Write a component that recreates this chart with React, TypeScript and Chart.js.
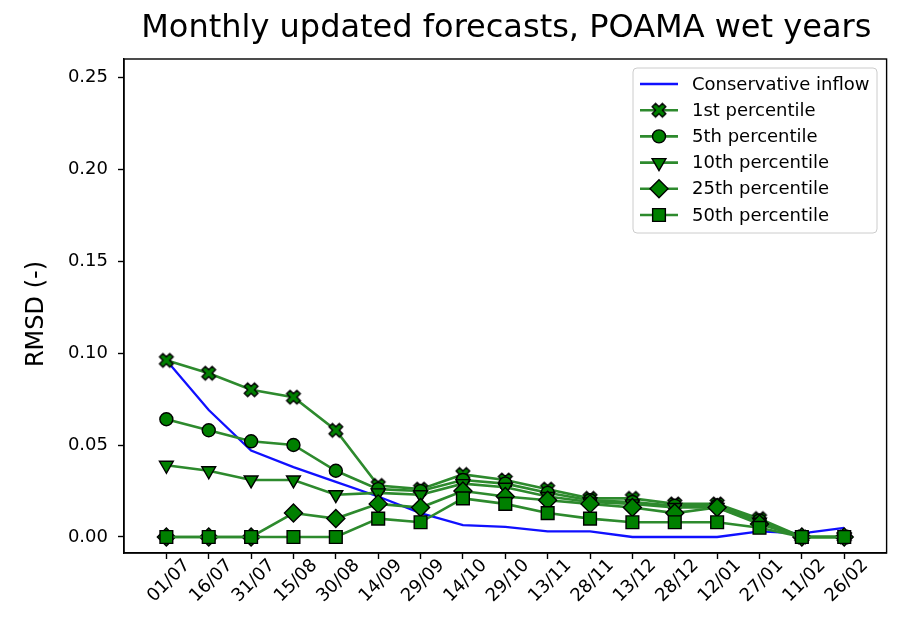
import React, { useEffect, useRef } from 'react';
import { Chart, registerables } from 'chart.js';
import { drawPoint } from 'chart.js/helpers';

Chart.register(...registerables);

const labels = ['01/07', '16/07', '31/07', '15/08', '30/08', '14/09', '29/09', '14/10', '29/10', '13/11', '28/11', '13/12', '28/12', '12/01', '27/01', '11/02', '26/02'];
const conservative = [0.096, 0.069, 0.047, 0.038, 0.030, 0.022, 0.013, 0.0065, 0.0055, 0.003, 0.003, 0.0, 0.0, 0.0, 0.003, 0.002, 0.005];
const p1 = [0.096, 0.089, 0.080, 0.076, 0.058, 0.028, 0.026, 0.034, 0.031, 0.026, 0.021, 0.021, 0.018, 0.018, 0.010, 0, 0];
const p5 = [0.064, 0.058, 0.052, 0.050, 0.036, 0.026, 0.025, 0.031, 0.029, 0.024, 0.020, 0.019, 0.017, 0.017, 0.009, 0, 0];
const p10 = [0.039, 0.036, 0.031, 0.031, 0.023, 0.024, 0.023, 0.029, 0.027, 0.022, 0.019, 0.018, 0.016, 0.016, 0.008, 0, 0];
const p25 = [0, 0, 0, 0.013, 0.010, 0.018, 0.016, 0.025, 0.022, 0.020, 0.018, 0.016, 0.013, 0.016, 0.007, 0, 0];
const p50 = [0, 0, 0, 0, 0, 0.010, 0.008, 0.021, 0.018, 0.013, 0.010, 0.008, 0.008, 0.008, 0.005, 0, 0];
const yTicks = [0, 0.05, 0.1, 0.15, 0.2, 0.25];
const seriesNames = ['Conservative inflow', '1st percentile', '5th percentile', '10th percentile', '25th percentile', '50th percentile'];

const FONT = "'DejaVu Sans', sans-serif";
const GREEN_LINE = 'rgb(45,138,45)';
const GREEN_FILL = '#008000';

function makeXMarker(size: number) {
  const S = Math.ceil(size * 1.1) + 4;
  const c = document.createElement('canvas');
  c.width = S;
  c.height = S;
  const ctx = c.getContext('2d')!;
  const pts = [[-1, -3], [1, -3], [1, -1], [3, -1], [3, 1], [1, 1], [1, 3], [-1, 3], [-1, 1], [-3, 1], [-3, -1], [-1, -1]];
  ctx.translate(S / 2, S / 2);
  ctx.rotate(Math.PI / 4);
  ctx.beginPath();
  pts.forEach(([x, y], i) => {
    const px = (x / 6) * size;
    const py = (y / 6) * size;
    if (i) ctx.lineTo(px, py);
    else ctx.moveTo(px, py);
  });
  ctx.closePath();
  ctx.fillStyle = GREEN_FILL;
  ctx.fill();
  ctx.lineWidth = 1.4;
  ctx.strokeStyle = '#000';
  ctx.stroke();
  return c;
}

export default function App() {
  const ref = useRef<HTMLCanvasElement | null>(null);
  useEffect(() => {
    document.body.style.margin = '0';
    const xMarker = makeXMarker(14.5);
    const values = [conservative, p1, p5, p10, p25, p50];
    const styles: any[] = [
      { pointStyle: false, radius: 0, rotation: 0 },
      { pointStyle: xMarker, radius: 7, rotation: 0 },
      { pointStyle: 'circle', radius: 6.5, rotation: 0 },
      { pointStyle: 'triangle', radius: 8, rotation: 180 },
      { pointStyle: 'rectRot', radius: 9, rotation: 0 },
      { pointStyle: 'rect', radius: 9, rotation: 0 },
    ];
    const datasets = values.map((vals, i) => ({
      label: seriesNames[i],
      data: vals.map((v, j) => ({ x: j, y: v })),
      borderColor: i === 0 ? '#1010ff' : GREEN_LINE,
      borderWidth: i === 0 ? 2.3 : 2.6,
      backgroundColor: GREEN_FILL,
      pointBackgroundColor: GREEN_FILL,
      pointBorderColor: '#000',
      pointBorderWidth: 1.4,
      pointStyle: styles[i].pointStyle,
      pointRadius: styles[i].radius,
      pointRotation: styles[i].rotation,
      pointHoverRadius: styles[i].radius,
      tension: 0,
      fill: false,
      clip: false as any,
      order: 5 - i,
    }));

    const decor = {
      id: 'decor',
      afterDraw(chart: any) {
        const ctx = chart.ctx as CanvasRenderingContext2D;
        const a = chart.chartArea;
        ctx.save();
        // frame
        ctx.strokeStyle = '#000';
        ctx.lineWidth = 1.4;
        ctx.strokeRect(a.left, a.top, a.right - a.left, a.bottom - a.top);
        // title
        ctx.fillStyle = '#000';
        ctx.font = `32px ${FONT}`;
        ctx.textAlign = 'center';
        ctx.textBaseline = 'alphabetic';
        ctx.fillText('Monthly updated forecasts, POAMA wet years', (a.left + a.right) / 2 + 1, 37);
        // y label
        ctx.save();
        ctx.translate(37, 314);
        ctx.rotate(-Math.PI / 2);
        ctx.font = `24px ${FONT}`;
        ctx.textBaseline = 'middle';
        ctx.fillText('RMSD (-)', 0, 0);
        ctx.restore();
        // legend
        const lx = 633, ly = 68, lw = 244, lh = 165, r = 4;
        ctx.beginPath();
        ctx.moveTo(lx + r, ly);
        ctx.arcTo(lx + lw, ly, lx + lw, ly + lh, r);
        ctx.arcTo(lx + lw, ly + lh, lx, ly + lh, r);
        ctx.arcTo(lx, ly + lh, lx, ly, r);
        ctx.arcTo(lx, ly, lx + lw, ly, r);
        ctx.closePath();
        ctx.fillStyle = 'rgba(255,255,255,0.8)';
        ctx.fill();
        ctx.strokeStyle = '#cccccc';
        ctx.lineWidth = 1;
        ctx.stroke();
        chart.data.datasets.forEach((ds: any, i: number) => {
          const y = 84 + i * 26.2;
          ctx.beginPath();
          ctx.moveTo(640, y);
          ctx.lineTo(678, y);
          ctx.strokeStyle = ds.borderColor;
          ctx.lineWidth = ds.borderWidth;
          ctx.stroke();
          if (ds.pointStyle) {
            ctx.fillStyle = ds.pointBackgroundColor;
            ctx.strokeStyle = ds.pointBorderColor;
            ctx.lineWidth = ds.pointBorderWidth;
            drawPoint(ctx, { pointStyle: ds.pointStyle, rotation: ds.pointRotation, radius: ds.pointRadius, borderWidth: ds.pointBorderWidth } as any, 659, y);
          }
          ctx.fillStyle = '#000';
          ctx.font = `18px ${FONT}`;
          ctx.textAlign = 'left';
          ctx.textBaseline = 'middle';
          ctx.fillText(ds.label, 692, y + 1);
        });
        ctx.restore();
      },
    };

    const chart = new Chart(ref.current!, {
      type: 'line',
      data: { datasets: datasets as any },
      options: {
        responsive: false,
        animation: false,
        events: [],
        layout: { padding: { top: 59, right: 10, left: 0, bottom: 0 } },
        plugins: { legend: { display: false }, title: { display: false }, tooltip: { enabled: false } },
        scales: {
          x: {
            type: 'linear',
            min: -1,
            max: 17,
            afterBuildTicks: (s: any) => {
              s.ticks = labels.map((_, i) => ({ value: i }));
            },
            afterFit: (s: any) => {
              s.height = 79;
            },
            ticks: {
              autoSkip: false,
              minRotation: 45,
              maxRotation: 45,
              labelOffset: 21,
              padding: -4,
              color: '#000',
              font: { family: FONT, size: 18 },
              callback: (v: any) => labels[v] ?? '',
            },
            grid: { drawOnChartArea: false, drawTicks: true, tickLength: 6, tickColor: '#000', tickWidth: 1.4 },
            border: { color: '#000', width: 1.4 },
          },
          y: {
            type: 'linear',
            min: -0.0087,
            max: 0.2598,
            afterBuildTicks: (s: any) => {
              s.ticks = yTicks.map((v) => ({ value: v }));
            },
            afterFit: (s: any) => {
              s.width = 124;
            },
            ticks: {
              color: '#000',
              padding: 10,
              font: { family: FONT, size: 18 },
              callback: (v: any) => Number(v).toFixed(2),
            },
            grid: { drawOnChartArea: false, drawTicks: true, tickLength: 6, tickColor: '#000', tickWidth: 1.4 },
            border: { color: '#000', width: 1.4 },
          },
        },
      },
      plugins: [decor],
    });
    return () => chart.destroy();
  }, []);
  return (
    <div style={{ width: 897, height: 632, background: '#fff' }}>
      <canvas ref={ref} width={897} height={632} />
    </div>
  );
}
